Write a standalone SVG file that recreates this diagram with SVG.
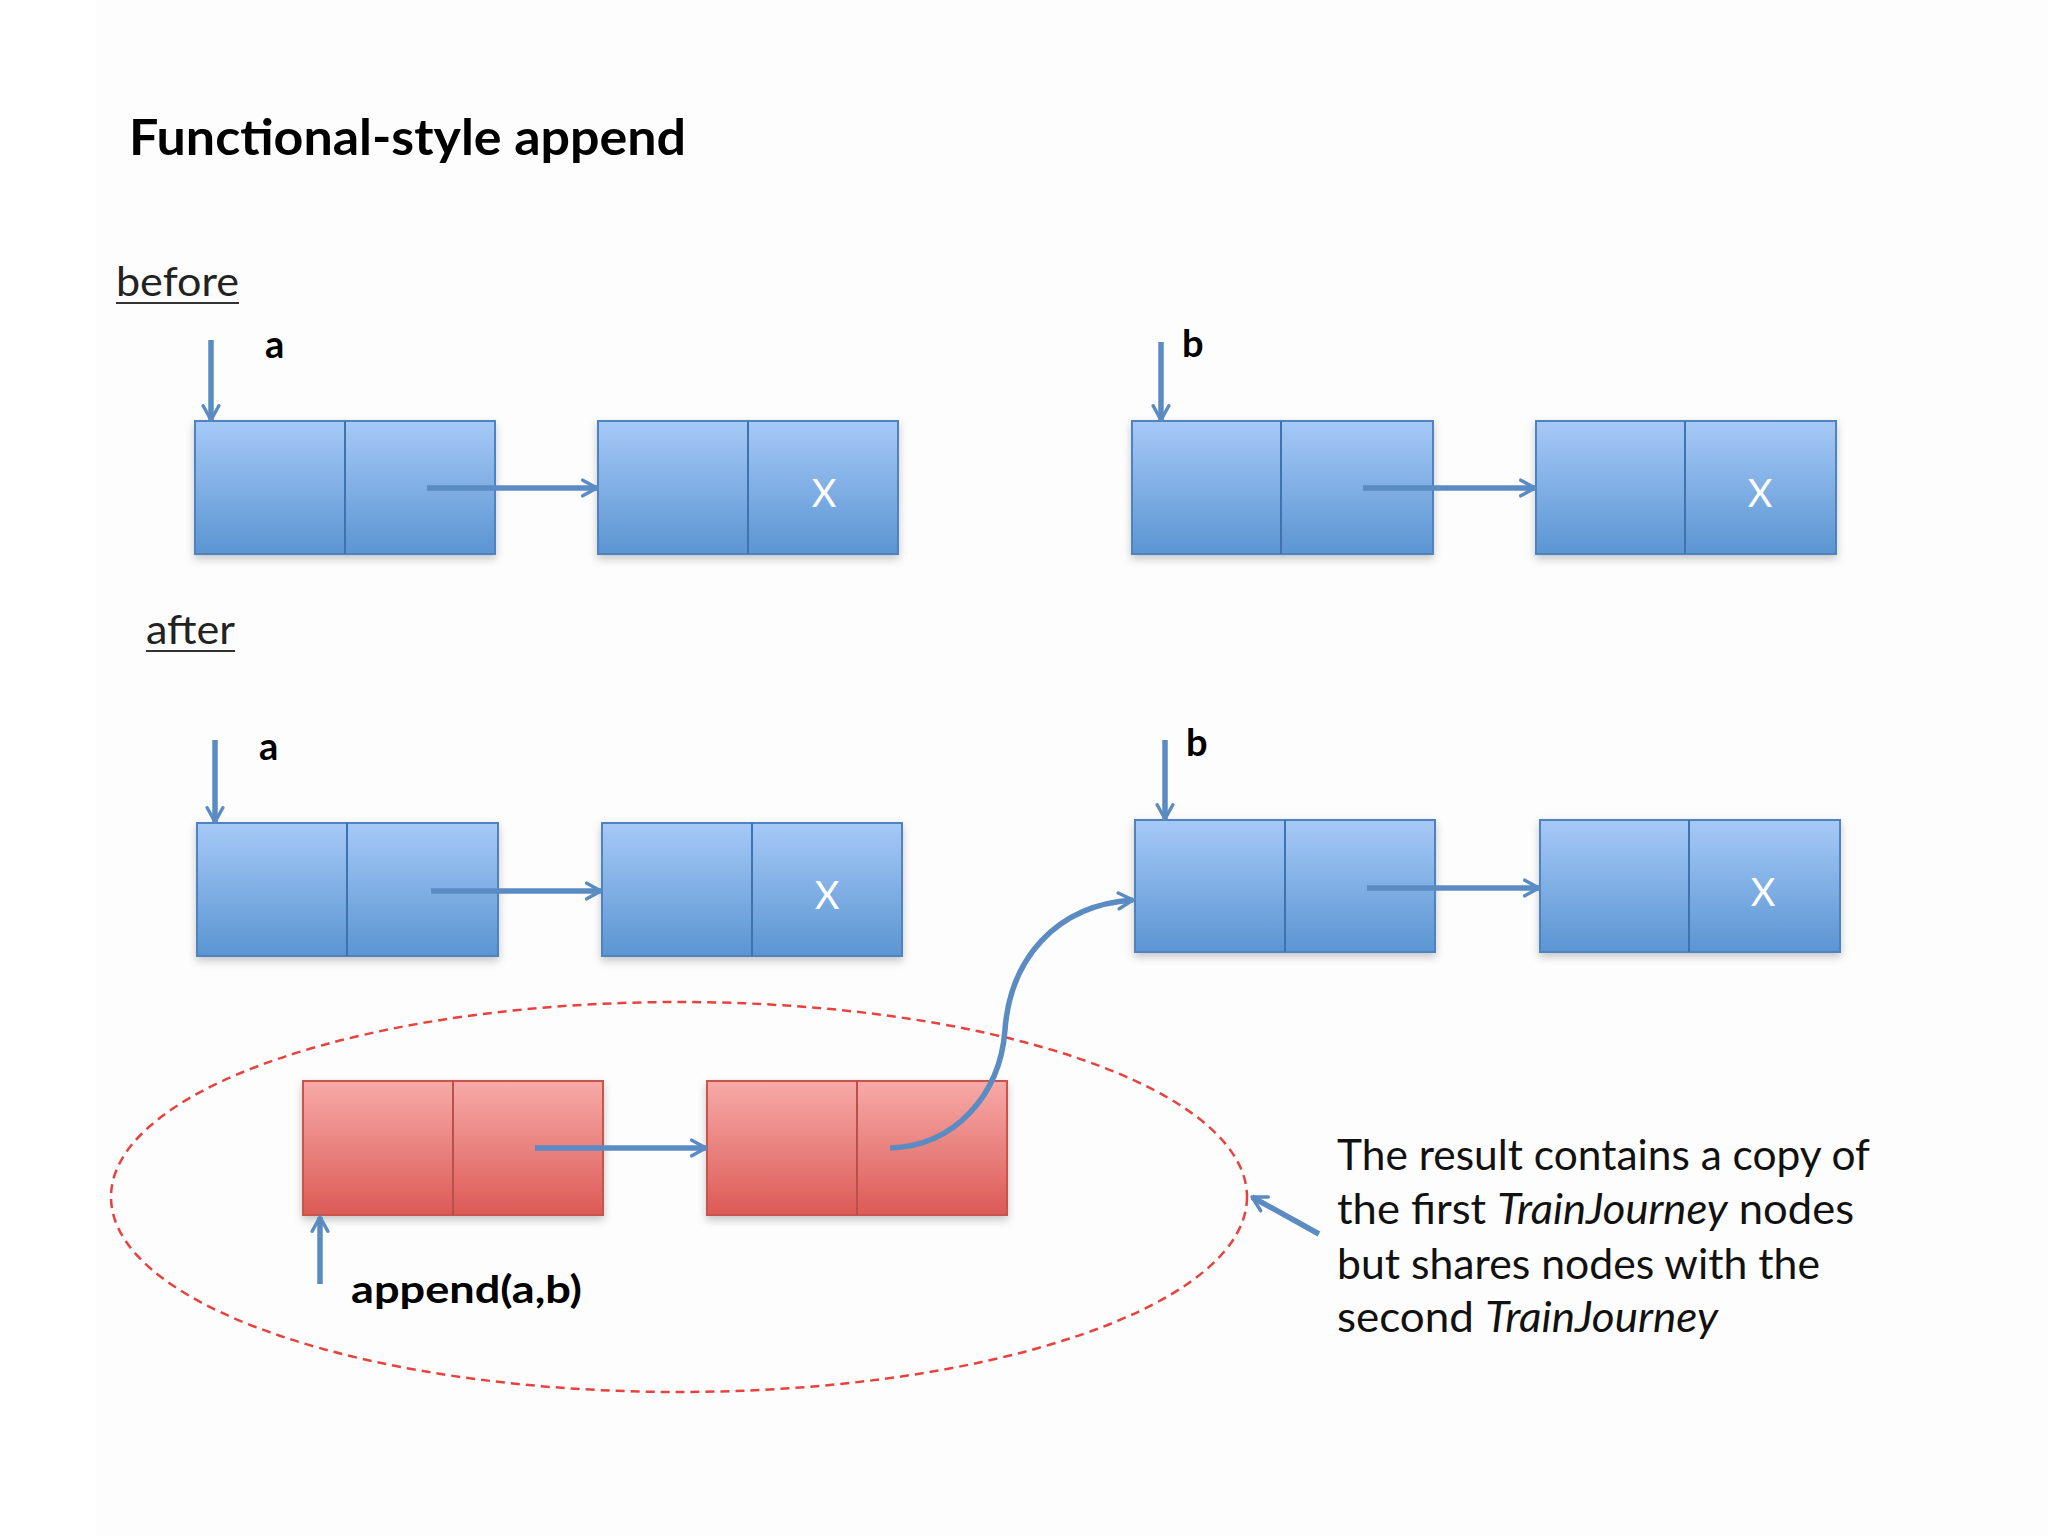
<svg xmlns="http://www.w3.org/2000/svg" width="2048" height="1536" viewBox="0 0 2048 1536">
<defs>
<linearGradient id="gBlue" x1="0" y1="0" x2="0" y2="1">
<stop offset="0" stop-color="#a6c9f7"/>
<stop offset="1" stop-color="#5a95d2"/>
</linearGradient>
<linearGradient id="gRed" x1="0" y1="0" x2="0" y2="1">
<stop offset="0" stop-color="#f7aaa8"/>
<stop offset="1" stop-color="#dc5a55"/>
</linearGradient>
<filter id="sh" x="-10%" y="-10%" width="120%" height="130%">
<feDropShadow dx="0" dy="4" stdDeviation="4" flood-color="#000" flood-opacity="0.22"/>
</filter>
<marker id="ah" viewBox="0 0 14 14" refX="12" refY="7" markerWidth="20" markerHeight="20" markerUnits="userSpaceOnUse" orient="auto">
<path d="M2,1.5 L12,7 L2,12.5" fill="none" stroke="#5a8bc2" stroke-width="2.4" stroke-linecap="round" stroke-linejoin="round"/>
</marker>
<style>
.blue{fill:url(#gBlue);stroke:#4f83bf;stroke-width:2;filter:url(#sh)}
.red{fill:url(#gRed);stroke:#c9524e;stroke-width:2;filter:url(#sh)}
.divb{stroke:#3f73ae;stroke-width:2}
.divr{stroke:#b8504c;stroke-width:2}
.x{font-family:Lato,"Liberation Sans",sans-serif;font-size:38px;fill:#ffffff;text-anchor:middle}
.lbl{font-family:Lato,"Liberation Sans",sans-serif;font-weight:bold;font-size:38px;fill:#000}
.hdr{font-family:Lato,"Liberation Sans",sans-serif;font-size:40px;fill:#222}
.para{font-family:Lato,"Liberation Sans",sans-serif;font-size:43px;fill:#111}
.conn{fill:none;stroke:#5a8bc2;stroke-width:5.5;marker-end:url(#ah)}
</style>
</defs>
<rect width="2048" height="1536" fill="#ffffff"/>
<rect x="96" y="0" width="1952" height="1536" fill="#fdfdfd"/>

<text id="title" x="129" y="155" font-family="Lato,'Liberation Sans',sans-serif" font-weight="bold" font-size="50" fill="#000" textLength="557" lengthAdjust="spacingAndGlyphs">Functional-style append</text>

<g id="before-label">
<text class="hdr" x="116" y="296" textLength="123" lengthAdjust="spacingAndGlyphs">before</text>
<line x1="116" y1="303" x2="239" y2="303" stroke="#333" stroke-width="2"/>
</g>
<g id="after-label">
<text class="hdr" x="146" y="644" textLength="89" lengthAdjust="spacingAndGlyphs">after</text>
<line x1="146" y1="651" x2="235" y2="651" stroke="#333" stroke-width="2"/>
</g>

<g id="before-a1"><rect class="blue" x="195" y="421" width="300" height="133"/><line class="divb" x1="345" y1="421" x2="345" y2="554"/></g>
<g id="before-a2"><rect class="blue" x="598" y="421" width="300" height="133"/><line class="divb" x1="748" y1="421" x2="748" y2="554"/><text class="x" x="824" y="507">X</text></g>
<g id="before-b1"><rect class="blue" x="1132" y="421" width="301" height="133"/><line class="divb" x1="1281" y1="421" x2="1281" y2="554"/></g>
<g id="before-b2"><rect class="blue" x="1536" y="421" width="300" height="133"/><line class="divb" x1="1685" y1="421" x2="1685" y2="554"/><text class="x" x="1760" y="507">X</text></g>

<g id="after-a1"><rect class="blue" x="197" y="823" width="301" height="133"/><line class="divb" x1="347" y1="823" x2="347" y2="956"/></g>
<g id="after-a2"><rect class="blue" x="602" y="823" width="300" height="133"/><line class="divb" x1="752" y1="823" x2="752" y2="956"/><text class="x" x="827" y="909">X</text></g>
<g id="after-b1"><rect class="blue" x="1135" y="820" width="300" height="132"/><line class="divb" x1="1285" y1="820" x2="1285" y2="952"/></g>
<g id="after-b2"><rect class="blue" x="1540" y="820" width="300" height="132"/><line class="divb" x1="1689" y1="820" x2="1689" y2="952"/><text class="x" x="1763" y="906">X</text></g>

<g id="result-r1"><rect class="red" x="303" y="1081" width="300" height="134"/><line class="divr" x1="453" y1="1081" x2="453" y2="1215"/></g>
<g id="result-r2"><rect class="red" x="707" y="1081" width="300" height="134"/><line class="divr" x1="857" y1="1081" x2="857" y2="1215"/></g>

<g id="result-ellipse"><ellipse cx="679" cy="1197" rx="568" ry="195" fill="none" stroke="#e8423e" stroke-width="2.5" stroke-dasharray="9 6"/></g>

<g id="labels">
<text class="lbl" x="265" y="358">a</text>
<text class="lbl" x="1182" y="357">b</text>
<text class="lbl" x="259" y="760">a</text>
<text class="lbl" x="1186" y="756">b</text>
<text class="lbl" x="351" y="1303" textLength="231" lengthAdjust="spacingAndGlyphs">append(a,b)</text>
</g>

<g id="note">
<text class="para" x="1337" y="1170" textLength="533" lengthAdjust="spacingAndGlyphs">The result contains a copy of</text>
<text class="para" x="1337" y="1224" textLength="517" lengthAdjust="spacingAndGlyphs">the first <tspan font-style="italic">TrainJourney</tspan> nodes</text>
<text class="para" x="1337" y="1279" textLength="483" lengthAdjust="spacingAndGlyphs">but shares nodes with the</text>
<text class="para" x="1337" y="1332" textLength="381" lengthAdjust="spacingAndGlyphs">second <tspan font-style="italic">TrainJourney</tspan></text>
</g>

<g id="connectors">
<line class="conn" x1="211" y1="340" x2="211" y2="420"/>
<line class="conn" x1="427" y1="488" x2="597" y2="488"/>
<line class="conn" x1="1161" y1="342" x2="1161" y2="420"/>
<line class="conn" x1="1363" y1="488" x2="1535" y2="488"/>

<line class="conn" x1="215" y1="740" x2="215" y2="822"/>
<line class="conn" x1="431" y1="891" x2="601" y2="891"/>
<line class="conn" x1="1165" y1="740" x2="1165" y2="819"/>
<line class="conn" x1="1367" y1="888" x2="1539" y2="888"/>

<line class="conn" x1="535" y1="1148" x2="706" y2="1148"/>
<path class="conn" d="M890,1148 C955,1146 1000,1095 1005,1030 C1010,960 1055,905 1133,900"/>
<line class="conn" x1="320" y1="1284" x2="320" y2="1217"/>
<line class="conn" x1="1319" y1="1234" x2="1252" y2="1197"/>
</g>
</svg>
